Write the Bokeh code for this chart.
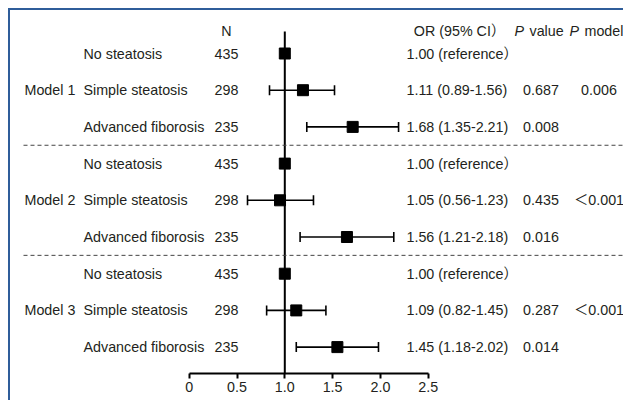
from bokeh.plotting import figure
from bokeh.models import Range1d, Label, Whisker, ColumnDataSource, FixedTicker, TeeHead
from bokeh.embed import file_html
from bokeh.resources import INLINE

# ---------------- data ----------------
models = ["Model 1", "Model 2", "Model 3"]
categories = ["No steatosis", "Simple steatosis", "Advanced fiborosis"]
n_values = [435, 298, 235]
or_labels = ["1.00 (reference\uff09", "1.11 (0.89-1.56)", "1.68 (1.35-2.21)",
             "1.00 (reference\uff09", "1.05 (0.56-1.23)", "1.56 (1.21-2.18)",
             "1.00 (reference\uff09", "1.09 (0.82-1.45)", "1.45 (1.18-2.02)"]
p_values = ["", "0.687", "0.008", "", "0.435", "0.016", "", "0.287", "0.014"]
p_models = ["0.006", "\uff1c0.001", "\uff1c0.001"]
# plotted positions
or_points = [1.00, 1.19, 1.71, 1.00, 0.95, 1.65, 1.00, 1.12, 1.55]
ci_low = [None, 0.84, 1.23, None, 0.61, 1.16, None, 0.81, 1.12]
ci_high = [None, 1.52, 2.19, None, 1.30, 2.14, None, 1.43, 1.98]
ref_value = 1.0
tick_values = [0, 0.5, 1.0, 1.5, 2.0, 2.5]
tick_labels = ["0", "0.5", "1.0", "1.5", "2.0", "2.5"]

# ---------------- layout ----------------
W, H = 615, 392
FRAME_H = 363
PPU_X = 95.6        # px per OR unit
X0_PX = 178.7       # px of OR=0 from left of canvas
ROW_PX = 36.7
ROW0_PX = 43.0
FONT = "'Liberation Sans', Arial, 'Noto Sans CJK SC'"
TXT = "#231f20"
FS = "14.3px"

x_start = -X0_PX / PPU_X
x_end = (W - X0_PX) / PPU_X
y_top = -ROW0_PX / ROW_PX
y_bottom = y_top + FRAME_H / ROW_PX

p = figure(width=W, height=H, x_range=Range1d(x_start, x_end),
           y_range=Range1d(start=y_bottom, end=y_top),
           output_backend="svg", toolbar_location=None,
           min_border_left=0, min_border_right=0, min_border_top=0,
           min_border_bottom=H - FRAME_H, y_axis_location=None)
p.outline_line_color = None
p.xgrid.visible = False
p.ygrid.visible = False
p.background_fill_color = "white"
p.border_fill_color = "white"
p.styles = {"border-top": "2px solid #2f5d9a", "border-left": "2px solid #2f5d9a",
            "margin-left": "8px", "margin-top": "8px"}

ax = p.xaxis[0]
ax.bounds = (tick_values[0], tick_values[-1])
ax.ticker = FixedTicker(ticks=tick_values, minor_ticks=[])
ax.major_label_overrides = {v: l for v, l in zip(tick_values, tick_labels)}
ax.axis_line_width = 2
ax.axis_line_color = "black"
ax.major_tick_line_width = 2
ax.major_tick_line_color = "black"
ax.major_tick_in = 0
ax.major_tick_out = 5
ax.minor_tick_line_color = None
ax.major_label_text_font = FONT
ax.major_label_text_font_size = FS
ax.major_label_text_color = TXT
ax.major_label_standoff = 3

rows = list(range(len(or_points)))
header_y = -0.6

# reference line at OR = 1
p.segment(x0=[ref_value], y0=[header_y], x1=[ref_value], y1=[y_bottom],
          line_color="black", line_width=2)

# dashed separators between models
sep_x0 = x_start + 13 / PPU_X
seps = [g * 3 + 2.5 for g in range(len(models) - 1)]
p.segment(x0=[sep_x0] * len(seps), y0=seps, x1=[x_end] * len(seps), y1=seps,
          line_color="#444444", line_width=1, line_dash="4 3")

# confidence intervals
ci_rows = [r for r in rows if ci_low[r] is not None]
src = ColumnDataSource(dict(y=ci_rows, lo=[ci_low[r] for r in ci_rows],
                            hi=[ci_high[r] for r in ci_rows]))
wh = Whisker(base="y", lower="lo", upper="hi", dimension="width", source=src,
             line_color="black", line_width=1.6,
             lower_head=TeeHead(size=10, line_width=1.6, line_color="black"),
             upper_head=TeeHead(size=10, line_width=1.6, line_color="black"))
p.add_layout(wh)

p.scatter(x=or_points, y=rows, marker="square", size=11,
          fill_color="black", line_color="black")


def lab(x, y, text, align="left", style="normal"):
    p.add_layout(Label(x=x, y=y, x_units="screen", y_units="data", text=text,
                       text_font=FONT, text_font_size=FS, text_color=TXT,
                       text_align=align, text_baseline="middle",
                       text_font_style=style))


# headers
lab(216, header_y, "N", "center")
lab(449, header_y, "OR (95% CI\uff09", "center")
lab(504, header_y, "P", "left", "italic")
lab(519, header_y, "value", "left")
lab(559, header_y, "P", "left", "italic")
lab(574, header_y, "model", "left")

for g, m in enumerate(models):
    lab(14, g * 3 + 1, m)
    lab(588.5, g * 3 + 1, p_models[g], "center")
    for k, c in enumerate(categories):
        r = g * 3 + k
        lab(73, r, c)
        lab(216, r, str(n_values[k]), "center")
        lab(396, r, or_labels[r])
        if p_values[r]:
            lab(530.5, r, p_values[r], "center")

open("out.html", "w").write(file_html(p, INLINE))
